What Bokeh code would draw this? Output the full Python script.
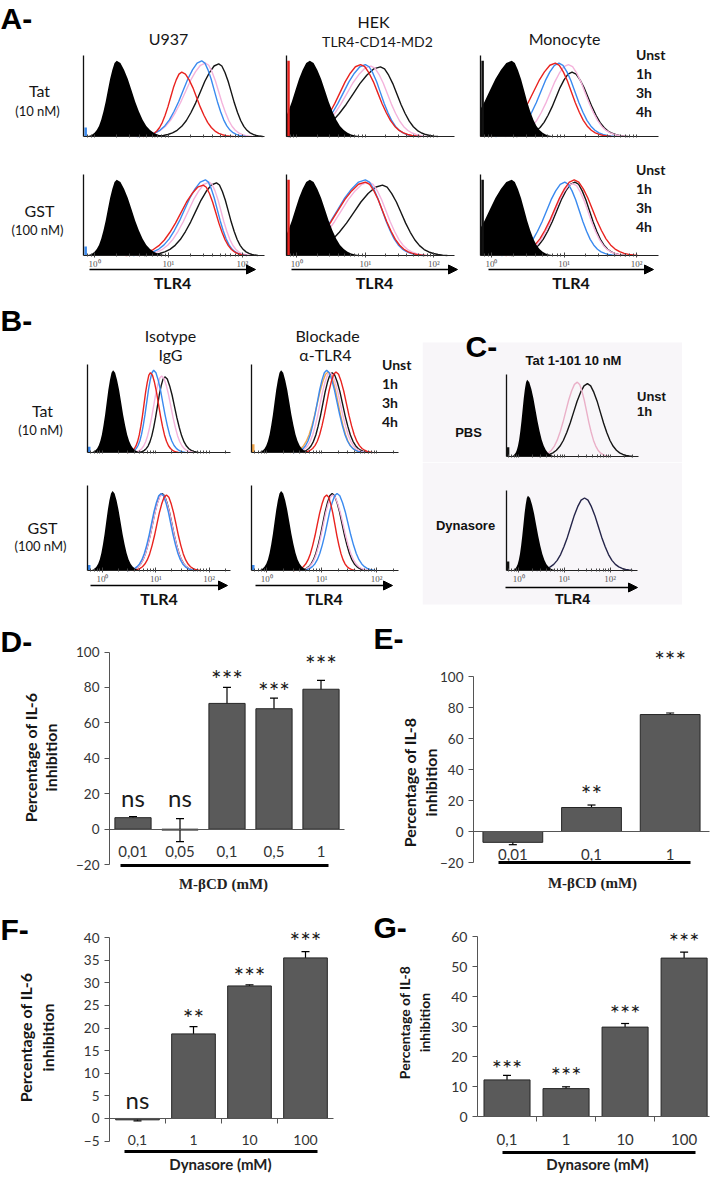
import math
from bokeh.plotting import figure
from bokeh.models import (Label, Arrow, NormalHead, TeeHead, FixedTicker, Range1d, BoxAnnotation,
                          Whisker, ColumnDataSource, Spacer, LinearAxis, Legend, LegendItem)
from bokeh.layouts import row, column
from bokeh.embed import file_html
from bokeh.resources import INLINE
from bokeh.core.properties import value

# ------------------------------------------------------------------ data
TIMES = ["Unst", "1h", "3h", "4h"]
TIME_COLORS = ["#161616", "#f4b3dc", "#3a8aef", "#e9231f"]
EXTRA_COLOR = "#f0a64c"
DYN_COLOR = "#25254a"
C_TIMES = ["Unst", "1h"]
C_COLORS = ["#161616", "#eab0c8"]

# one flow-cytometry peak profile (offset in widths -> relative height)
PROFILE_U = [0, 0.25, 0.5, 0.75, 1.0, 1.25, 1.5, 1.75, 2.0, 2.25, 2.5, 2.75, 3.0, 3.25, 3.5]
PROFILE_H = [1.0, 0.97, 0.88, 0.76, 0.61, 0.46, 0.33, 0.22, 0.14, 0.085, 0.05, 0.028, 0.014, 0.006, 0.0]

# per panel, order: isotype (filled), Unst, 1h, 3h, 4h ; peak in log10(TLR4)
A_U937_TAT = dict(peak=[0.30, 1.68, 1.50, 1.45, 1.18], height=[1.0, 0.96, 0.97, 1.0, 0.85],
                  left=[0.12, 0.25, 0.27, 0.25, 0.15], right=[0.20, 0.17, 0.18, 0.17, 0.20])
A_HEK_TAT = dict(peak=[0.19, 1.22, 1.08, 1.00, 0.93], height=[1.0, 0.92, 0.93, 0.95, 0.95],
                 left=[0.21, 0.40, 0.35, 0.32, 0.30], right=[0.22, 0.24, 0.24, 0.22, 0.25])
A_MONO_TAT = dict(peak=[0.28, 1.11, 1.06, 0.93, 0.88], height=[1.0, 0.85, 0.95, 0.97, 0.97],
                  left=[0.30, 0.22, 0.25, 0.25, 0.30], right=[0.17, 0.22, 0.23, 0.22, 0.22])
A_U937_GST = dict(peak=[0.30, 1.65, 1.55, 1.50, 1.47], height=[1.0, 0.96, 0.97, 1.0, 0.93],
                  left=[0.12, 0.28, 0.28, 0.28, 0.30], right=[0.20, 0.16, 0.16, 0.16, 0.17])
A_HEK_GST = dict(peak=[0.19, 1.25, 1.05, 1.00, 1.00], height=[1.0, 0.93, 0.97, 1.0, 0.97],
                 left=[0.21, 0.42, 0.40, 0.40, 0.40], right=[0.22, 0.27, 0.25, 0.24, 0.25])
A_MONO_GST = dict(peak=[0.28, 1.15, 1.12, 1.01, 1.14], height=[1.0, 0.97, 0.95, 0.97, 1.0],
                  left=[0.30, 0.25, 0.25, 0.25, 0.27], right=[0.17, 0.20, 0.21, 0.20, 0.25])

B_ISO_TAT = dict(peak=[0.20, 1.17, 1.11, 0.96, 0.90], height=[1.0, 0.92, 0.93, 1.0, 0.97],
                 left=[0.12, 0.14, 0.15, 0.13, 0.12], right=[0.15, 0.18, 0.17, 0.17, 0.15])
B_BLOCK_TAT = dict(peak=[0.26, 1.19, 1.15, 1.09, 1.26], height=[1.0, 0.97, 0.97, 1.0, 0.98],
                   left=[0.12, 0.17, 0.18, 0.17, 0.17], right=[0.15, 0.19, 0.19, 0.19, 0.19])
B_BLOCK_TAT_EXTRA = dict(peak=[1.12], height=[0.98], left=[0.20], right=[0.18])
B_ISO_GST = dict(peak=[0.19, 1.12, 1.12, 1.10, 1.20], height=[1.0, 0.97, 0.96, 0.97, 0.95],
                 left=[0.12, 0.18, 0.18, 0.18, 0.18], right=[0.15, 0.18, 0.18, 0.18, 0.18])
B_BLOCK_GST = dict(peak=[0.26, 1.19, 1.20, 1.28, 1.09], height=[1.0, 0.97, 0.95, 0.97, 0.95],
                   left=[0.12, 0.17, 0.17, 0.18, 0.17], right=[0.15, 0.18, 0.19, 0.20, 0.15])

C_PBS = dict(peak=[0.18, 1.49, 1.27], height=[1.0, 0.95, 0.97],
             left=[0.10, 0.30, 0.25], right=[0.18, 0.28, 0.20])
C_DYN = dict(peak=[0.20, 1.44], height=[1.0, 0.97], left=[0.10, 0.30], right=[0.18, 0.30])

# spike at the left axis (height, colour) per panel
SPIKE_HEIGHT = dict(a_u937=0.12, a_hek=1.0, a_mono=1.0, b_iso=0.07, b_block=0.1, c=0.12)
SPIKE_COLOR = dict(a_u937="#3a8aef", a_hek="#e9231f", a_mono="#111111", b_iso="#3a8aef",
                   b_block=EXTRA_COLOR, c="#111111")

FLOW_TICKS = [0, 1, 2]
FLOW_TICK_LABELS = {0: "10\u2070", 1: "10\u00b9", 2: "10\u00b2"}

# bar charts
D_CATS = ["0,01", "0,05", "0,1", "0,5", "1"]
D_VALUES = [6.5, -0.5, 71, 68, 79]
D_ERRORS = [0.6, 6.5, 9, 6, 5]
D_SIG = ["ns", "ns", "***", "***", "***"]
D_SIG_Y = [18, 18, 85, 78, 93]

E_CATS = ["0,01", "0,1", "1"]
E_VALUES = [-7, 15.5, 75.5]
E_ERRORS = [1.5, 1.6, 1.0]
E_SIG = ["", "**", "***"]
E_SIG_Y = [0, 24, 111]

F_CATS = ["0,1", "1", "10", "100"]
F_VALUES = [-0.3, 18.7, 29.3, 35.5]
F_ERRORS = [0.25, 1.6, 0.25, 1.4]
F_SIG = ["ns", "**", "***", "***"]
F_SIG_Y = [4.2, 22.3, 31.4, 39.2]

G_CATS = ["0,1", "1", "10", "100"]
G_VALUES = [12.2, 9.3, 29.8, 52.8]
G_ERRORS = [1.5, 0.6, 1.2, 2.0]
G_SIG = ["***", "***", "***", "***"]
G_SIG_Y = [16.3, 14.0, 34.6, 58.8]

MINOR_TICKS = [round(math.log10(k) + d, 4) for d in (-1, 0, 1, 2) for k in range(2, 10)]

TXT = "#161616"


# ------------------------------------------------------------------ helpers
class Pan:
    """A figure whose frame is its whole canvas; xr/yr are mapped onto the page box fl..fr / fb..ft."""

    def __init__(self, cx, cy, w, h, fl, fr, ft, fb, xr, yr, bg="white"):
        self.cx, self.cy, self.w, self.h = cx, cy, w, h
        sx = (xr[1] - xr[0]) / (fr - fl)
        sy = (yr[1] - yr[0]) / (fb - ft)
        x_range = Range1d(xr[0] - (fl - cx) * sx, xr[1] + (cx + w - fr) * sx)
        y_range = Range1d(yr[0] - (cy + h - fb) * sy, yr[1] + (ft - cy) * sy)
        p = figure(width=w, height=h, x_range=x_range, y_range=y_range,
                   output_backend="svg", toolbar_location=None, min_border=0,
                   background_fill_color=bg, border_fill_color=bg)
        p.outline_line_color = None
        p.xgrid.visible = False
        p.ygrid.visible = False
        self.p = p

    def sx(self, px):
        return px - self.cx

    def sy(self, py):
        return self.cy + self.h - py

    def label(self, px, py, text, size, font="Lato", bold=False, align="center",
              color=TXT, angle=0.0):
        self.p.add_layout(Label(x=self.sx(px), y=self.sy(py), x_units="screen", y_units="screen",
                                text=text, text_font=font, text_font_size=f"{size}px",
                                text_font_style="bold" if bold else "normal",
                                text_align=align, text_baseline="middle", text_color=color,
                                angle=angle))

    def arrow(self, x0, x1, py):
        self.p.add_layout(Arrow(end=NormalHead(size=9, fill_color="#000000", line_color="#000000"),
                                x_start=self.sx(x0), y_start=self.sy(py),
                                x_end=self.sx(x1), y_end=self.sy(py),
                                start_units="screen", end_units="screen",
                                line_color="#000000", line_width=1.6))

    def shade(self, x0, x1, y0, y1, color):
        self.p.add_layout(BoxAnnotation(left=self.sx(x0), right=self.sx(x1),
                                        top=self.sy(y0), bottom=self.sy(y1),
                                        left_units="screen", right_units="screen",
                                        top_units="screen", bottom_units="screen",
                                        fill_color=color, fill_alpha=1.0, line_color=None,
                                        level="underlay"))

    def legend(self, names, colors, left_px, top_px, glyph_w, lw, row_h, size, font="Lato", standoff=5):
        items = []
        for n, c in zip(names, colors):
            r = self.p.line([], [], line_color=c, line_width=lw)
            items.append(LegendItem(label=n, renderers=[r]))
        bottom_px = top_px + row_h * len(names)
        leg = Legend(items=items, location=(self.sx(left_px), self.sy(bottom_px)),
                     glyph_width=glyph_w, glyph_height=row_h, label_height=row_h,
                     spacing=0, padding=0, margin=0, border_line_color=None,
                     background_fill_alpha=0, label_text_font=font,
                     label_text_font_style="bold", label_text_font_size=f"{size}px",
                     label_standoff=standoff, label_text_color=TXT)
        self.p.add_layout(leg)


def profile(peak, height, wl, wr, lo, hi):
    xs = [peak - u * wl for u in reversed(PROFILE_U)] + [peak + u * wr for u in PROFILE_U[1:]]
    ys = [height * h for h in reversed(PROFILE_H)] + [height * h for h in PROFILE_H[1:]]
    # clip the outline to the plotted decade range
    cx_, cy_ = [], []
    for i, (x, y) in enumerate(zip(xs, ys)):
        if x < lo:
            if i + 1 < len(xs) and xs[i + 1] >= lo:
                t = (lo - x) / (xs[i + 1] - x)
                cx_.append(lo)
                cy_.append(y + t * (ys[i + 1] - y))
            continue
        if x > hi:
            if i > 0 and xs[i - 1] <= hi:
                t = (hi - xs[i - 1]) / (x - xs[i - 1])
                cx_.append(hi)
                cy_.append(ys[i - 1] + t * (y - ys[i - 1]))
            break
        cx_.append(x)
        cy_.append(y)
    return cx_, cy_


def flow(cx, cy, w, h, fl, fr, ft, fb, xr, data, colors, spike_key, labeled,
         extra=None, extra_color=None):
    P = Pan(cx, cy, w, h, fl, fr, ft, fb, xr, (0, 1.07))
    p = P.p
    n = len(data["peak"])
    if extra is not None:
        xs, ys = profile(extra["peak"][0], extra["height"][0], extra["left"][0], extra["right"][0], *xr)
        p.line(xs, ys, line_color=extra_color, line_width=1.4)
    for i in range(1, n):
        xs, ys = profile(data["peak"][i], data["height"][i], data["left"][i], data["right"][i], *xr)
        p.line(xs, ys, line_color=colors[i - 1], line_width=1.4)
    xs, ys = profile(data["peak"][0], data["height"][0], data["left"][0], data["right"][0], *xr)
    p.varea(x=xs, y1=[0] * len(xs), y2=ys, fill_color="#000000")
    sx = xr[0] + 0.012 * (xr[1] - xr[0])
    p.segment(x0=[sx], y0=[0], x1=[sx], y1=[SPIKE_HEIGHT[spike_key]],
              line_color=SPIKE_COLOR[spike_key], line_width=2.5)

    ax = p.xaxis[0]
    ax.fixed_location = 0
    ax.bounds = xr
    minors = [t for t in MINOR_TICKS if xr[0] < t < xr[1]]
    if labeled:
        ax.ticker = FixedTicker(ticks=FLOW_TICKS, minor_ticks=minors)
        ax.major_label_overrides = FLOW_TICK_LABELS
        ax.major_label_text_font = "Liberation Serif"
        ax.major_label_text_color = "#555555"
        ax.major_label_text_font_size = "9px"
        ax.major_label_standoff = 1
    else:
        ax.ticker = FixedTicker(ticks=[], minor_ticks=FLOW_TICKS + minors)
    ax.axis_line_color = "#222222"
    ax.major_tick_in, ax.major_tick_out = 3, 2
    ax.minor_tick_in, ax.minor_tick_out = 2, 1
    ax.major_tick_line_color = "#444444"
    ax.minor_tick_line_color = "#444444"

    ay = p.yaxis[0]
    ay.fixed_location = xr[0]
    ay.bounds = (0, 1.07)
    ay.ticker = FixedTicker(ticks=[])
    ay.major_tick_line_color = None
    ay.minor_tick_line_color = None
    ay.axis_line_color = "#111111"
    ay.axis_line_width = 1.3
    return P


def bars(cx, cy, w, h, fl, fr, ft, fb, xr, yr, cats, vals, errs, sig, sig_y,
         yticks, ybounds, line_bounds, bar_w, cat_size, tick_size, sig_sizes, boundary_ticks):
    P = Pan(cx, cy, w, h, fl, fr, ft, fb, xr, yr)
    p = P.p
    xs = list(range(1, len(cats) + 1))
    src = ColumnDataSource(dict(x=xs, top=vals,
                                upper=[v + e for v, e in zip(vals, errs)],
                                lower=[v - e for v, e in zip(vals, errs)]))
    p.vbar(x="x", top="top", bottom=0, width=bar_w, source=src,
           fill_color="#5a5a5a", line_color="#262626", line_width=1)
    p.add_layout(Whisker(source=src, base="x", upper="upper", lower="lower",
                         line_color="#000000", line_width=1.2,
                         upper_head=TeeHead(size=8, line_color="#000000", line_width=1.2),
                         lower_head=TeeHead(size=8, line_color="#000000", line_width=1.2)))
    ssrc = ColumnDataSource(dict(x=xs, y=sig_y, t=sig,
                                 fs=[f"{sig_sizes[0] if s == 'ns' else sig_sizes[1]}px" for s in sig]))
    p.text(x="x", y="y", text="t", source=ssrc, text_align="center", text_baseline="middle",
           text_font=value("Lato"), text_font_size="fs", text_color="#1a1a1a")

    ax = p.xaxis[0]
    ax.fixed_location = 0
    ax.bounds = xr
    ax.ticker = FixedTicker(ticks=xs, minor_ticks=[x + 0.5 for x in xs[:-1]])
    ax.major_label_overrides = {x: c for x, c in zip(xs, cats)}
    ax.major_tick_line_color = None
    ax.minor_tick_in = 0
    ax.minor_tick_out = 5 if boundary_ticks else 0
    ax.minor_tick_line_color = "#555555"
    ax.axis_line_color = "#555555"
    ax.major_label_standoff = 11
    ax.major_label_text_font = "Lato"
    ax.major_label_text_font_size = f"{cat_size}px"
    ax.major_label_text_color = "#333333"

    ax2 = LinearAxis(ticker=FixedTicker(ticks=[]), bounds=line_bounds, fixed_location=yr[0],
                     axis_line_width=3, axis_line_color="#000000",
                     major_tick_line_color=None, minor_tick_line_color=None)
    p.add_layout(ax2, "below")

    ay = p.yaxis[0]
    ay.fixed_location = xr[0]
    ay.ticker = FixedTicker(ticks=yticks)
    ay.bounds = ybounds
    ay.major_tick_in, ay.major_tick_out = 0, 5
    ay.minor_tick_line_color = None
    ay.major_tick_line_color = "#555555"
    ay.axis_line_color = "#555555"
    ay.major_label_standoff = 5
    ay.major_label_text_font = "Lato"
    ay.major_label_text_font_size = f"{tick_size}px"
    ay.major_label_text_color = "#333333"
    return P


# ------------------------------------------------------------------ panel A
XR_A = (-0.15, 2.3)
a1 = flow(8, 8, 275, 144, 91, 272, 63, 144, XR_A, A_U937_TAT, TIME_COLORS, "a_u937", False)
a2 = flow(283, 8, 192, 144, 294, 462, 63, 144, XR_A, A_HEK_TAT, TIME_COLORS, "a_hek", False)
a3 = flow(475, 8, 243, 144, 488, 666, 63, 144, XR_A, A_MONO_TAT, TIME_COLORS, "a_mono", False)
a4 = flow(8, 152, 275, 153, 91, 272, 182, 263, XR_A, A_U937_GST, TIME_COLORS, "a_u937", True)
a5 = flow(283, 152, 192, 153, 294, 462, 182, 263, XR_A, A_HEK_GST, TIME_COLORS, "a_hek", True)
a6 = flow(475, 152, 243, 153, 488, 666, 182, 263, XR_A, A_MONO_GST, TIME_COLORS, "a_mono", True)

a1.label(8, 26, "A-", 30, font="Liberation Sans", bold=True, align="left", color="#000000")
a1.label(176, 46, "U937", 16)
a2.label(381, 29, "HEK", 16)
a2.label(385, 49, "TLR4-CD14-MD2", 14)
a3.label(572, 46, "Monocyte", 16)
a1.label(47, 98, "Tat", 16)
a1.label(45, 118, "(10 nM)", 13)
a4.label(47, 218, "GST", 16)
a4.label(45, 237, "(100 nM)", 13)
for P_, x0, x1 in ((a4, 97, 263), (a5, 299, 465), (a6, 496, 661)):
    P_.arrow(x0, x1, 277)
    P_.label((x0 + x1) / 2, 290, "TLR4", 16, bold=True, color="#111111")
a3.legend(TIMES, TIME_COLORS, 618, 53, 21, 4, 19, 14)
a6.legend(TIMES, TIME_COLORS, 618, 168, 21, 4, 19, 14)

# ------------------------------------------------------------------ panel B
XR_B = (-0.28, 2.4)
b1 = flow(8, 305, 240, 170, 95, 238, 372, 460, XR_B, B_ISO_TAT, TIME_COLORS, "b_iso", False)
b2 = flow(248, 305, 182, 170, 259, 406, 372, 460, XR_B, B_BLOCK_TAT, TIME_COLORS, "b_block", False,
          extra=B_BLOCK_TAT_EXTRA, extra_color=EXTRA_COLOR)
b3 = flow(8, 475, 240, 140, 95, 238, 493, 578, XR_B, B_ISO_GST, TIME_COLORS, "b_iso", True)
b4 = flow(248, 475, 182, 140, 259, 406, 493, 578, XR_B, B_BLOCK_GST, TIME_COLORS, "b_iso", True)

b1.label(8, 328, "B-", 30, font="Liberation Sans", bold=True, align="left", color="#000000")
b1.label(178, 343, "Isotype", 16)
b1.label(178, 362, "IgG", 16)
b2.label(335, 343, "Blockade", 16)
b2.label(333, 362, "\u03b1-TLR4", 16)
b1.label(50, 418, "Tat", 16)
b1.label(48, 437, "(10 nM)", 13)
b3.label(50, 535, "GST", 16)
b3.label(48, 553, "(100 nM)", 13)
for P_, x0, x1 in ((b3, 98, 235), (b4, 263, 400)):
    P_.arrow(x0, x1, 593)
    P_.label((x0 + x1) / 2, 606, "TLR4", 16, bold=True, color="#111111")
b2.legend(TIMES, TIME_COLORS, 375, 363, 10, 5, 19, 14)

# ------------------------------------------------------------------ panel C
BG_C = "#f8f6f9"
XR_C = (-0.27, 2.6)
c1 = flow(430, 330, 260, 140, 514, 646, 382, 464, XR_C, C_PBS, C_COLORS, "c", False)
c2 = flow(430, 470, 260, 145, 514, 645, 498, 578, XR_C, C_DYN, [DYN_COLOR], "c", True)
c1.shade(430, 690, 350, 470, BG_C)
c2.shade(430, 690, 470, 612, BG_C)
c1.label(473, 354, "C-", 30, font="Liberation Sans", bold=True, align="left", color="#000000")
c1.label(581, 368, "Tat 1-101 10 nM", 13, font="Liberation Sans", bold=True, color="#111111")
c1.label(476, 440, "PBS", 13, font="Liberation Sans", bold=True, color="#111111")
c2.label(473, 533, "Dynasore", 13, font="Liberation Sans", bold=True, color="#111111")
c2.arrow(513, 645, 595)
c2.label(580, 606, "TLR4", 14, font="Liberation Sans", bold=True, color="#111111")
c1.legend(C_TIMES, C_COLORS, 630, 399, 8, 4, 14, 13, font="Liberation Sans", standoff=7)

# ------------------------------------------------------------------ panels D-G
d = bars(8, 615, 355, 290, 117, 352, 656, 873, (0.5, 5.5), (-20.5, 102),
         D_CATS, D_VALUES, D_ERRORS, D_SIG, D_SIG_Y, [-20, 0, 20, 40, 60, 80, 100], (-20, 100),
         (0.73, 5.16), 0.77, 15, 13.5, (24, 25), False)
e = bars(363, 615, 355, 290, 481, 717, 650, 870, (0.5, 3.5), (-20, 122),
         E_CATS, E_VALUES, E_ERRORS, E_SIG, E_SIG_Y, [-20, 0, 20, 40, 60, 80, 100], (-20, 100),
         (0.82, 3.26), 0.76, 15, 13.5, (24, 25), False)
f = bars(8, 905, 355, 277, 117, 341, 936, 1159, (0.5, 4.5), (-7.3, 42),
         F_CATS, F_VALUES, F_ERRORS, F_SIG, F_SIG_Y, [-5, 0, 5, 10, 15, 20, 25, 30, 35, 40], (-5, 40),
         (0.77, 4.21), 0.78, 14, 13.5, (24, 25), True)
g = bars(363, 905, 355, 277, 485, 717, 935, 1160, (0.5, 4.43), (-12, 63),
         G_CATS, G_VALUES, G_ERRORS, G_SIG, G_SIG_Y, [0, 10, 20, 30, 40, 50, 60], (0, 60),
         (0.92, 4.19), 0.78, 15, 14, (24, 24), True)

d.label(8, 649, "D-", 30, font="Liberation Sans", bold=True, align="left", color="#000000")
e.label(381, 646, "E-", 30, font="Liberation Sans", bold=True, align="left", color="#000000")
f.label(8, 937, "F-", 30, font="Liberation Sans", bold=True, align="left", color="#000000")
g.label(381, 935, "G-", 30, font="Liberation Sans", bold=True, align="left", color="#000000")

d.label(231, 891, "M-\u03b2CD (mM)", 15, font="Liberation Serif", bold=True, color="#222222")
e.label(600, 890, "M-\u03b2CD (mM)", 15, font="Liberation Serif", bold=True, color="#222222")
f.label(228, 1171, "Dynasore (mM)", 15, bold=True, color="#222222")
g.label(605, 1171, "Dynasore (mM)", 15, bold=True, color="#222222")

HALF_PI = math.pi / 2
d.label(38, 765, "Percentage of IL-6", 16, bold=True, angle=HALF_PI)
d.label(58, 765, "inhibition", 16, bold=True, angle=HALF_PI)
e.label(417, 790, "Percentage of IL-8", 16, bold=True, angle=HALF_PI)
e.label(438, 790, "inhibition", 16, bold=True, angle=HALF_PI)
f.label(33, 1045, "Percentage of IL-6", 16, bold=True, angle=HALF_PI)
f.label(55, 1045, "inhibition", 16, bold=True, angle=HALF_PI)
g.label(412, 1030, "Percentage of IL-8", 14, bold=True, angle=HALF_PI)
g.label(432, 1030, "inhibition", 14, bold=True, angle=HALF_PI)

# ------------------------------------------------------------------ layout
layout = column(
    row(a1.p, a2.p, a3.p),
    row(a4.p, a5.p, a6.p),
    row(column(b1.p, b3.p), column(b2.p, b4.p), column(Spacer(width=260, height=25), c1.p, c2.p)),
    row(d.p, e.p),
    row(f.p, g.p),
)

open("out.html", "w").write(file_html(layout, INLINE))
